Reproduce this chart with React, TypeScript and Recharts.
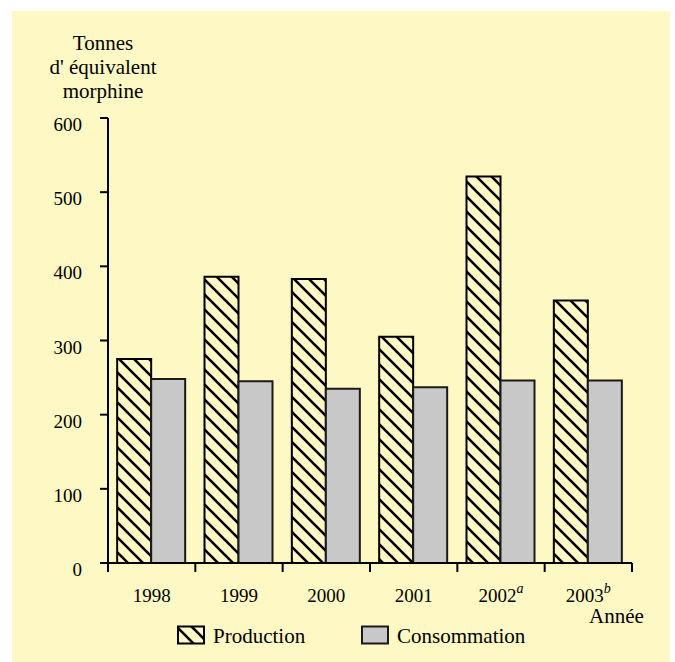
import { BarChart, Bar, XAxis, YAxis, Label } from 'recharts';

const years = ['1998', '1999', '2000', '2001', '2002', '2003'];
const yearNotes = ['', '', '', '', 'a', 'b'];
const production = [275, 386, 383, 305, 521, 354];
const consommation = [248, 245, 235, 237, 246, 246];
const yTicks = [0, 100, 200, 300, 400, 500, 600];

const data = years.map((annee, i) => ({
  annee,
  production: production[i],
  consommation: consommation[i],
}));

const BG = '#FEF8C4';
const GRIS = '#C8C8C8';
const FONT = '"Liberation Serif", "Times New Roman", serif';
const CHART_W = 675;
const CHART_H = 662;
const MARGIN = { top: 118, right: 43, bottom: 59, left: 0 };
const Y_W = 108;
const BAND = (CHART_W - MARGIN.left - MARGIN.right - Y_W) / years.length;

function Hachures({ id }: { id: string }) {
  return (
    <pattern id={id} patternUnits="userSpaceOnUse" width={15} height={15}>
      <rect width={15} height={15} fill={BG} />
      <path d="M-4,11 L4,19 M0,0 L15,15 M11,-4 L19,4" stroke="#000" strokeWidth={2.6} />
    </pattern>
  );
}

function XTick(props: any) {
  const { x, y, payload } = props;
  const index = props.index ?? payload.index;
  const half = BAND / 2;
  const axisY = y - 9;
  const note = yearNotes[index];
  return (
    <g>
      <line x1={x - half} x2={x - half} y1={axisY} y2={y} stroke="#000" strokeWidth={2} />
      {index === years.length - 1 && (
        <line x1={x + half} x2={x + half} y1={axisY} y2={y} stroke="#000" strokeWidth={2} />
      )}
      <text x={x} y={y + 29.5} textAnchor="middle" fontSize={19} fill="#000" fontFamily={FONT}>
        {payload.value}
        {note && (
          <tspan fontStyle="italic" fontSize={14} dy={-9}>
            {note}
          </tspan>
        )}
      </text>
    </g>
  );
}

function YTick(props: any) {
  const { x, y, payload } = props;
  return (
    <text x={x} y={y + 13} textAnchor="end" fontSize={19} fill="#000" fontFamily={FONT}>
      {payload.value}
    </text>
  );
}

function TitreY(props: any) {
  const { x, y, width } = props.viewBox;
  const cx = x + width - 5;
  return (
    <text textAnchor="middle" fontSize={21} fill="#000" fontFamily={FONT}>
      <tspan x={cx} y={y - 68}>Tonnes</tspan>
      <tspan x={cx} y={y - 44.5}>d' équivalent</tspan>
      <tspan x={cx} y={y - 20.5}>morphine</tspan>
    </text>
  );
}

function TitreX(props: any) {
  const { x, y, width } = props.viewBox;
  return (
    <text x={x + width - 43} y={y + 59.7} fontSize={21} fill="#000" fontFamily={FONT}>
      Année
    </text>
  );
}

export default function App() {
  return (
    <div
      style={{
        position: 'absolute',
        left: 0,
        top: 0,
        width: CHART_W,
        height: CHART_H,
        background: '#fff',
        fontFamily: FONT,
      }}
    >
      <div style={{ position: 'absolute', left: 12, top: 11, width: 658, height: 651, background: BG }} />
      <div style={{ position: 'absolute', left: 0, top: 0 }}>
        <BarChart
          width={CHART_W}
          height={CHART_H}
          data={data}
          margin={MARGIN}
          barCategoryGap="10.5%"
          barGap={0}
        >
          <defs>
            <Hachures id="hatch" />
          </defs>
          <XAxis
            dataKey="annee"
            height={40}
            interval={0}
            tickLine={false}
            tickSize={9}
            tickMargin={0}
            axisLine={{ stroke: '#000', strokeWidth: 2 }}
            tick={(p: any) => <XTick {...p} />}
          >
            <Label content={TitreX} />
          </XAxis>
          <YAxis
            width={Y_W}
            domain={[0, 600]}
            ticks={yTicks}
            interval={0}
            tickSize={8}
            tickMargin={18}
            tickLine={{ stroke: '#000', strokeWidth: 2 }}
            axisLine={{ stroke: '#000', strokeWidth: 2 }}
            tick={(p: any) => <YTick {...p} />}
          >
            <Label content={TitreY} />
          </YAxis>
          <Bar dataKey="production" fill="url(#hatch)" stroke="#000" strokeWidth={2} isAnimationActive={false} />
          <Bar dataKey="consommation" fill={GRIS} stroke="#1a1a1a" strokeWidth={2} isAnimationActive={false} />
        </BarChart>
      </div>
      {/* légende */}
      <svg
        width={CHART_W}
        height={CHART_H}
        style={{ position: 'absolute', left: 0, top: 0, pointerEvents: 'none' }}
      >
        <defs>
          <Hachures id="hatch-leg" />
        </defs>
        <rect x={178} y={626.5} width={26} height={17} fill="url(#hatch-leg)" stroke="#000" strokeWidth={2} />
        <text x={213} y={643} fontSize={21} fill="#000" fontFamily={FONT}>Production</text>
        <rect x={362} y={626.5} width={26} height={17} fill={GRIS} stroke="#1a1a1a" strokeWidth={2} />
        <text x={397} y={643} fontSize={21} fill="#000" fontFamily={FONT}>Consommation</text>
      </svg>
    </div>
  );
}
